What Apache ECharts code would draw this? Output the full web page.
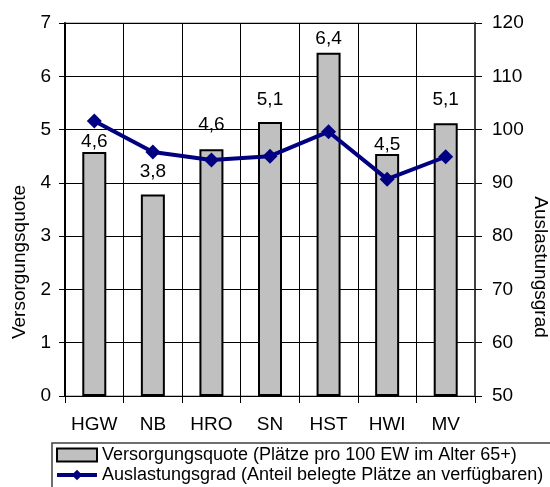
<!DOCTYPE html>
<html>
<head>
<meta charset="utf-8">
<script src="https://cdn.jsdelivr.net/npm/echarts@6/dist/echarts.min.js"></script>
<style>html,body{margin:0;padding:0;background:#fff}#c{width:550px;height:487px}</style>
</head>
<body>
<div id="c"></div>
<script>
var categories = ['HGW', 'NB', 'HRO', 'SN', 'HST', 'HWI', 'MV'];
var versorgungsquote = [4.58, 3.78, 4.63, 5.14, 6.44, 4.54, 5.12];
var auslastungsgrad = [101.6, 95.8, 94.3, 95.0, 99.6, 90.7, 94.9];
var labelDistances = [1, 13, 15, 13, 5, 0, 14];
var leftTicks = [0, 1, 2, 3, 4, 5, 6, 7];
var rightTicks = [50, 60, 70, 80, 90, 100, 110, 120];
var seriesNames = ['Versorgungsquote (Plätze pro 100 EW im Alter 65+)', 'Auslastungsgrad (Anteil belegte Plätze an verfügbaren)'];
var axisTitles = ['Versorgungsquote', 'Auslastungsgrad'];

var FONT = 'Liberation Sans, Arial, sans-serif';
var chart = echarts.init(document.getElementById('c'), null, {renderer: 'canvas'});

var barData = versorgungsquote.map(function (v, i) {
  return {value: v, label: {distance: labelDistances[i]}};
});

chart.setOption({
  animation: false,
  textStyle: {fontFamily: FONT},
  grid: {left: 65, right: 75, top: 23, bottom: 91, show: true, borderColor: '#808080', borderWidth: 1},
  xAxis: {
    type: 'category',
    data: categories,
    boundaryGap: true,
    axisLine: {show: true, lineStyle: {color: '#000', width: 1}},
    axisTick: {show: true, alignWithLabel: false, interval: 0, length: 7, lineStyle: {color: '#000'}},
    splitLine: {show: true, interval: 0, lineStyle: {color: '#000', width: 1}},
    axisLabel: {color: '#000', fontSize: 19, margin: 19, interval: 0, fontFamily: FONT}
  },
  yAxis: [{
    type: 'value', min: leftTicks[0], max: leftTicks[leftTicks.length - 1], interval: 1,
    axisLine: {show: true, lineStyle: {color: '#000', width: 2}},
    axisTick: {show: true, length: 6, lineStyle: {color: '#000'}},
    splitLine: {show: true, lineStyle: {color: '#000', width: 1}},
    axisLabel: {color: '#000', fontSize: 19, margin: 14, fontFamily: FONT}
  }, {
    type: 'value', min: rightTicks[0], max: rightTicks[rightTicks.length - 1], interval: 10, position: 'right',
    axisLine: {show: true, lineStyle: {color: '#404040', width: 2}},
    axisTick: {show: true, length: 7, lineStyle: {color: '#000'}},
    splitLine: {show: false},
    axisLabel: {color: '#000', fontSize: 19, margin: 17, fontFamily: FONT}
  }],
  legend: {
    orient: 'vertical', left: 55, top: 446, padding: 0, itemGap: 2,
    itemWidth: 40, itemHeight: 13,
    textStyle: {color: '#000', fontSize: 18, fontFamily: FONT},
    data: [
      {name: seriesNames[0], icon: 'rect'},
      {name: seriesNames[1], lineStyle: {width: 4, color: '#000080'}}
    ]
  },
  graphic: [{
    type: 'rect', shape: {x: 52, y: 443, width: 510, height: 60},
    style: {fill: 'none', stroke: '#404040', lineWidth: 1.5}, z: 0
  }, {
    type: 'text', x: 20, y: 262, rotation: Math.PI / 2,
    style: {text: axisTitles[0], fontSize: 19, fontFamily: FONT, fill: '#000', textAlign: 'center', textVerticalAlign: 'middle'}
  }, {
    type: 'text', x: 540, y: 267, rotation: -Math.PI / 2,
    style: {text: axisTitles[1], fontSize: 19, fontFamily: FONT, fill: '#000', textAlign: 'center', textVerticalAlign: 'middle'}
  }],
  series: [{
    name: seriesNames[0], type: 'bar', yAxisIndex: 0, data: barData, barWidth: 24,
    itemStyle: {color: '#c0c0c0', borderColor: '#000', borderWidth: 2},
    label: {show: true, position: 'top', color: '#000', fontSize: 19, fontFamily: FONT,
      formatter: function (p) { return p.value.toFixed(1).replace('.', ','); }}
  }, {
    name: seriesNames[1], type: 'line', yAxisIndex: 1, data: auslastungsgrad,
    symbol: 'diamond', symbolSize: 15, z: 5,
    itemStyle: {color: '#000080'}, lineStyle: {color: '#000080', width: 4}
  }]
});
</script>
</body>
</html>
